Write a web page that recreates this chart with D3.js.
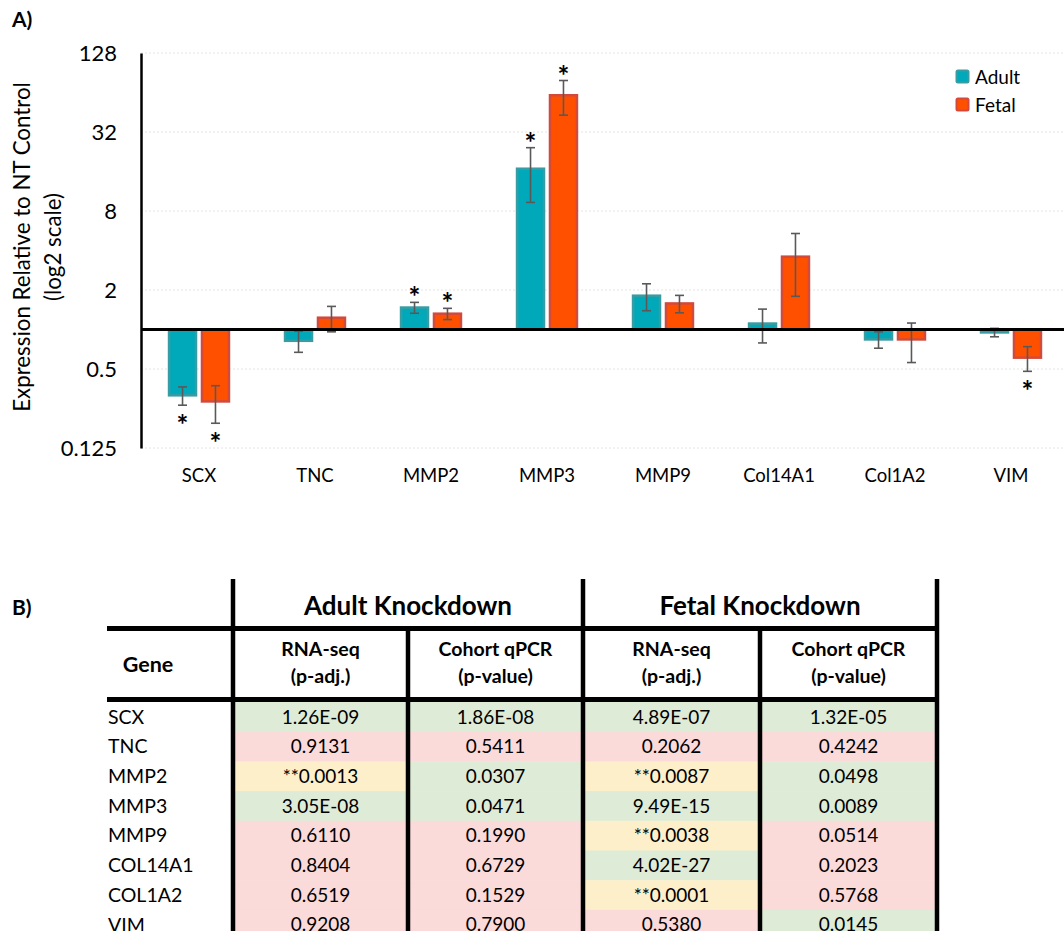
<!DOCTYPE html>
<html>
<head>
<meta charset="utf-8">
<script src="https://cdn.jsdelivr.net/npm/d3@7"></script>
<style>
  body { margin: 0; background: #fff; }
  svg { display: block; font-family: Lato, "Open Sans", sans-serif; }
</style>
</head>
<body>
<svg id="fig" width="1064" height="931"></svg>
<script>
// ---- Panel A: qPCR fold change (mean and SD, linear units) ----
const genes = ["SCX", "TNC", "MMP2", "MMP3", "MMP9", "Col14A1", "Col1A2", "VIM"];
const series = ["Adult", "Fetal"];
const adultMean = [0.315, 0.82, 1.47, 16.8, 1.81, 1.11, 0.84, 0.95];
const adultSD   = [0.05, 0.15, 0.14, 7.5, 0.42, 0.32, 0.12, 0.07];
const fetalMean = [0.283, 1.23, 1.32, 61, 1.58, 3.59, 0.84, 0.61];
const fetalSD   = [0.09, 0.27, 0.13, 18, 0.24, 1.8, 0.28, 0.13];
const adultSig  = [true, false, true, true, false, false, false, false];
const fetalSig  = [true, false, true, true, false, false, false, true];
const yTicks = [0.125, 0.5, 2, 8, 32, 128];

// ---- Panel B: significance table ----
const tableGenes   = ["SCX", "TNC", "MMP2", "MMP3", "MMP9", "COL14A1", "COL1A2", "VIM"];
const adultRnaSeq  = ["1.26E-09", "0.9131", "**0.0013", "3.05E-08", "0.6110", "0.8404", "0.6519", "0.9208"];
const adultQpcr    = ["1.86E-08", "0.5411", "0.0307", "0.0471", "0.1990", "0.6729", "0.1529", "0.7900"];
const fetalRnaSeq  = ["4.89E-07", "0.2062", "**0.0087", "9.49E-15", "**0.0038", "4.02E-27", "**0.0001", "0.5380"];
const fetalQpcr    = ["1.32E-05", "0.4242", "0.0498", "0.0089", "0.0514", "0.2023", "0.5768", "0.0145"];

const svg = d3.select("#fig");

const fill   = { Adult: "#00a9b9", Fetal: "#ff5000" };
const stroke = { Adult: "#3a9ca3", Fetal: "#d24a3c" };

// ---------- Panel A ----------
const plotLeft = 141, plotRight = 1069, plotTop = 53, plotBottom = 448;

const x = d3.scaleBand().domain(genes).range([plotLeft, plotRight])
  .paddingInner(0.466).paddingOuter(0.233);
const xs = d3.scaleBand().domain(series).range([0, x.bandwidth()]).paddingInner(0.12);
const y = d3.scaleLog().base(2).domain([0.125, 128]).range([plotBottom, plotTop]);

svg.append("text").attr("x", 12).attr("y", 27)
  .attr("font-size", 21).attr("font-weight", 700).text("A)");

// faint dotted gridlines
svg.append("g").selectAll("line").data(yTicks).join("line")
  .attr("x1", plotLeft).attr("x2", 1064)
  .attr("y1", d => y(d)).attr("y2", d => y(d))
  .attr("stroke", "#e4e4e4").attr("stroke-width", 1).attr("stroke-dasharray", "2,2");

// y axis
const yAxis = svg.append("g").attr("transform", `translate(${plotLeft},0)`)
  .call(d3.axisLeft(y).tickValues(yTicks).tickFormat(d => String(d))
    .tickSize(0).tickSizeOuter(0).tickPadding(24));
yAxis.select(".domain").attr("stroke", "#000").attr("stroke-width", 2.5);
yAxis.selectAll("text").attr("font-size", 22).attr("font-family", "Lato").attr("fill", "#000");

// y title
const yTitle = svg.append("text")
  .attr("transform", "translate(0,247) rotate(-90)")
  .attr("text-anchor", "middle").attr("font-size", 22.3).attr("fill", "#000");
yTitle.append("tspan").attr("x", 0).attr("y", 30).text("Expression Relative to NT Control");
yTitle.append("tspan").attr("x", 0).attr("y", 61).text("(log2 scale)");

// bars
const bars = [];
genes.forEach((g, i) => {
  bars.push({ gene: g, s: "Adult", v: adultMean[i], sd: adultSD[i], sig: adultSig[i] });
  bars.push({ gene: g, s: "Fetal", v: fetalMean[i], sd: fetalSD[i], sig: fetalSig[i] });
});
const bx = d => x(d.gene) + xs(d.s);

svg.append("g").selectAll("rect").data(bars).join("rect")
  .attr("x", d => bx(d) + 1)
  .attr("width", xs.bandwidth() - 2)
  .attr("y", d => Math.min(y(d.v), y(1)))
  .attr("height", d => Math.abs(y(d.v) - y(1)))
  .attr("fill", d => fill[d.s])
  .attr("stroke", d => stroke[d.s])
  .attr("stroke-width", 2.5);

// error bars
const eb = svg.append("g").attr("stroke", "#595959").attr("stroke-width", 1.6);
bars.forEach(d => {
  const cx = bx(d) + xs.bandwidth() / 2;
  const yHi = y(d.v + d.sd), yLo = y(d.v - d.sd);
  eb.append("line").attr("x1", cx).attr("x2", cx).attr("y1", yHi).attr("y2", yLo);
  eb.append("line").attr("x1", cx - 4.5).attr("x2", cx + 4.5).attr("y1", yHi).attr("y2", yHi);
  eb.append("line").attr("x1", cx - 4.5).attr("x2", cx + 4.5).attr("y1", yLo).attr("y2", yLo);
});

// significance stars
svg.append("g").selectAll("text").data(bars.filter(d => d.sig)).join("text")
  .attr("x", d => bx(d) + xs.bandwidth() / 2)
  .attr("y", d => d.v >= 1 ? y(d.v + d.sd) + 5 : y(d.v - d.sd) + 30)
  .attr("text-anchor", "middle").attr("font-size", 28).attr("font-weight", 700)
  .text("*");

// baseline at 1
svg.append("line").attr("x1", plotLeft).attr("x2", 1064)
  .attr("y1", y(1)).attr("y2", y(1)).attr("stroke", "#000").attr("stroke-width", 3);

// x labels
const xAxis = svg.append("g").attr("transform", `translate(0,${plotBottom})`)
  .call(d3.axisBottom(x).tickSize(0).tickPadding(21));
xAxis.select(".domain").remove();
xAxis.selectAll("text").attr("font-size", 18.5).attr("font-family", "Lato").attr("fill", "#000");

// legend
const legend = svg.append("g");
series.forEach((s, i) => {
  legend.append("rect").attr("x", 956.5).attr("y", 70.5 + i * 28).attr("width", 12).attr("height", 12)
    .attr("rx", 1.5).attr("fill", fill[s]).attr("stroke", stroke[s]).attr("stroke-width", 2);
  legend.append("text").attr("x", 975).attr("y", 77 + i * 28).attr("dy", "0.35em")
    .attr("font-size", 19).text(s);
});

// ---------- Panel B ----------
svg.append("text").attr("x", 12).attr("y", 615)
  .attr("font-size", 21).attr("font-weight", 700).text("B)");

const colEdges = [107, 233, 408, 583, 760, 937];
const rowTop = 702, rowH = 29.7;
const columns = [adultRnaSeq, adultQpcr, fetalRnaSeq, fetalQpcr];
const cellColor = v => v.startsWith("**") ? "#fcefc9" : (parseFloat(v) < 0.05 ? "#deebd6" : "#fbdada");

const tbl = svg.append("g");
columns.forEach((col, c) => {
  const x0 = colEdges[c + 1], x1 = colEdges[c + 2];
  col.forEach((v, r) => {
    tbl.append("rect").attr("x", x0).attr("y", rowTop + r * rowH)
      .attr("width", x1 - x0).attr("height", rowH + 0.5).attr("fill", cellColor(v));
    tbl.append("text").attr("x", (x0 + x1) / 2).attr("y", rowTop + r * rowH + rowH / 2)
      .attr("dy", "0.35em").attr("text-anchor", "middle").attr("font-size", 19).text(v);
  });
});
tableGenes.forEach((g, r) => {
  tbl.append("text").attr("x", 108).attr("y", rowTop + r * rowH + rowH / 2)
    .attr("dy", "0.35em").attr("font-size", 19.5).text(g);
});

// headers
const hdr = svg.append("g").attr("font-weight", 700).attr("text-anchor", "middle");
hdr.append("text").attr("x", (233 + 583) / 2).attr("y", 615).attr("font-size", 26).text("Adult Knockdown");
hdr.append("text").attr("x", (583 + 937) / 2).attr("y", 615).attr("font-size", 26).text("Fetal Knockdown");
hdr.append("text").attr("x", 148).attr("y", 672).attr("font-size", 21.5).text("Gene");
[["RNA-seq", "(p-adj.)"], ["Cohort qPCR", "(p-value)"], ["RNA-seq", "(p-adj.)"], ["Cohort qPCR", "(p-value)"]]
  .forEach((lines, c) => {
    const cx = (colEdges[c + 1] + colEdges[c + 2]) / 2;
    hdr.append("text").attr("x", cx).attr("y", 656).attr("font-size", 19.5).text(lines[0]);
    hdr.append("text").attr("x", cx).attr("y", 683).attr("font-size", 19.5).text(lines[1]);
  });

// grid lines
const gl = svg.append("g").attr("stroke", "#000");
gl.append("line").attr("x1", 107).attr("x2", 939).attr("y1", 628.5).attr("y2", 628.5).attr("stroke-width", 5);
gl.append("line").attr("x1", 107).attr("x2", 939).attr("y1", 699.5).attr("y2", 699.5).attr("stroke-width", 5);
[233, 583, 937].forEach(xv => gl.append("line").attr("x1", xv).attr("x2", xv)
  .attr("y1", 579).attr("y2", 931).attr("stroke-width", 4.5));
[408, 760].forEach(xv => gl.append("line").attr("x1", xv).attr("x2", xv)
  .attr("y1", 628).attr("y2", 931).attr("stroke-width", 4.5));
</script>
</body>
</html>
